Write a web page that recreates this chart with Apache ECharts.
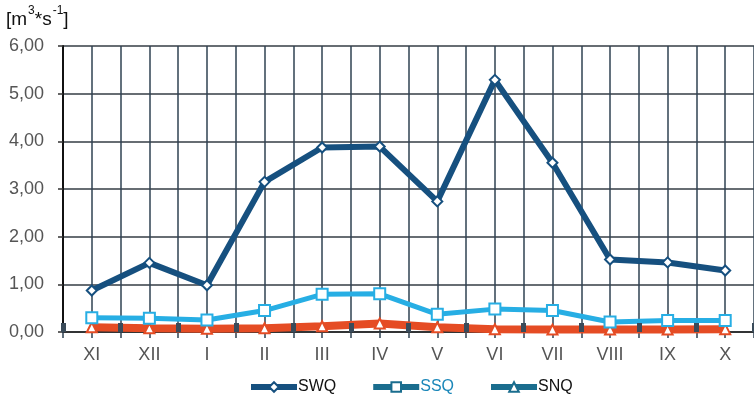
<!DOCTYPE html>
<html>
<head>
<meta charset="utf-8">
<script src="https://cdn.jsdelivr.net/npm/echarts@6/dist/echarts.min.js"></script>
<style>
  html, body { margin: 0; padding: 0; background: #fff; }
  #chart { width: 754px; height: 403px; }
</style>
</head>
<body>
<div id="chart"></div>
<script>
// Months of the hydrological year (November to October)
const months = ['XI', 'XII', 'I', 'II', 'III', 'IV', 'V', 'VI', 'VII', 'VIII', 'IX', 'X'];

// Mean monthly discharges [m3/s]
const swq = [0.87, 1.45, 0.98, 3.15, 3.87, 3.89, 2.74, 5.29, 3.55, 1.52, 1.46, 1.29];
const ssq = [0.30, 0.29, 0.25, 0.45, 0.79, 0.80, 0.37, 0.48, 0.45, 0.21, 0.24, 0.24];
const snq = [0.10, 0.08, 0.07, 0.08, 0.12, 0.18, 0.10, 0.06, 0.05, 0.05, 0.05, 0.06];

// Y-axis range and step
const yMin = 0, yMax = 6, yStep = 1;

const FONT = '"Liberation Sans", Arial, sans-serif';
const NAVY = '#16507f';
const SKY = '#27aee4';
const RED = '#e54c24';
const TEAL = '#1a6d8e';
const GRID_V = '#2f4252';

const chart = echarts.init(document.getElementById('chart'), null, { renderer: 'canvas' });

const fmt = v => v.toFixed(2).replace('.', ',');

chart.setOption({
  animation: false,
  backgroundColor: '#ffffff',
  textStyle: { fontFamily: FONT },
  title: {
    left: 6, top: 5, padding: 0,
    text: '{a|[m}{s|3}{a|*s}{s|-1}{a|]}',
    textStyle: {
      fontWeight: 'normal',
      rich: {
        a: { fontFamily: FONT, fontSize: 19, fontWeight: 'normal', color: '#111', verticalAlign: 'bottom', lineHeight: 24 },
        s: { fontFamily: FONT, fontSize: 12, fontWeight: 'normal', color: '#111', verticalAlign: 'top', lineHeight: 24, padding: [0, 0, 10, 1] }
      }
    }
  },
  legend: {
    bottom: 3,
    left: 243,
    itemWidth: 46,
    itemHeight: 12,
    itemGap: 34,
    textStyle: { fontFamily: FONT, fontSize: 16, color: '#111', padding: [0, 0, 0, -4] },
    data: [
      { name: 'SWQ', lineStyle: { color: NAVY, width: 6 },
        itemStyle: { color: '#fff', borderColor: NAVY, borderWidth: 2 } },
      { name: 'SSQ', lineStyle: { color: TEAL, width: 6 },
        itemStyle: { color: '#fff', borderColor: TEAL, borderWidth: 2 },
        textStyle: { color: '#1b87b9' } },
      { name: 'SNQ', lineStyle: { color: TEAL, width: 6 },
        itemStyle: { color: '#fff', borderColor: TEAL, borderWidth: 2 } }
    ]
  },
  grid: { left: 63, right: -11, top: 46, bottom: 71, containLabel: false },
  xAxis: [
    {
      // month labels and the thick boundary ticks
      type: 'category',
      data: months,
      boundaryGap: true,
      position: 'bottom',
      z: 5,
      axisLine: { show: false },
      axisTick: { show: true, inside: true, length: 9, lineStyle: { color: '#3a4b5a', width: 5 } },
      axisLabel: { color: '#555', fontSize: 18, fontFamily: FONT, margin: 14 },
      splitLine: { show: false }
    },
    {
      // vertical grid at month centres and boundaries
      type: 'value',
      min: 0, max: 12, interval: 0.5,
      position: 'bottom',
      z: 0,
      axisLine: { show: true, lineStyle: { color: '#222', width: 1.5 } },
      axisTick: { show: true, length: 6, lineStyle: { color: GRID_V, width: 1.5 } },
      axisLabel: { show: false },
      splitLine: { show: true, lineStyle: { color: GRID_V, width: 1.5 } }
    }
  ],
  yAxis: {
    type: 'value',
    min: yMin, max: yMax, interval: yStep,
    axisLine: { show: true, lineStyle: { color: '#111', width: 2 } },
    axisTick: { show: true, length: 5, lineStyle: { color: '#333', width: 1.5 } },
    axisLabel: { color: '#555', fontSize: 18, fontFamily: FONT, margin: 19, formatter: fmt },
    splitLine: { show: true, lineStyle: { color: '#353d45', width: 1.5 } }
  },
  series: [
    {
      name: 'SWQ', type: 'line', xAxisIndex: 0, data: swq,
      symbol: 'diamond', symbolSize: 10, z: 4,
      lineStyle: { color: NAVY, width: 6 },
      itemStyle: { color: '#fff', borderColor: NAVY, borderWidth: 2 }
    },
    {
      name: 'SSQ', type: 'line', xAxisIndex: 0, data: ssq,
      symbol: 'rect', symbolSize: 11, z: 3,
      lineStyle: { color: SKY, width: 5 },
      itemStyle: { color: '#fff', borderColor: SKY, borderWidth: 2 }
    },
    {
      name: 'SNQ', type: 'line', xAxisIndex: 0, data: snq,
      symbol: 'triangle', symbolSize: 10, z: 2,
      lineStyle: { color: RED, width: 8 },
      itemStyle: { color: '#fff', borderColor: RED, borderWidth: 2 }
    }
  ]
});
</script>
</body>
</html>
